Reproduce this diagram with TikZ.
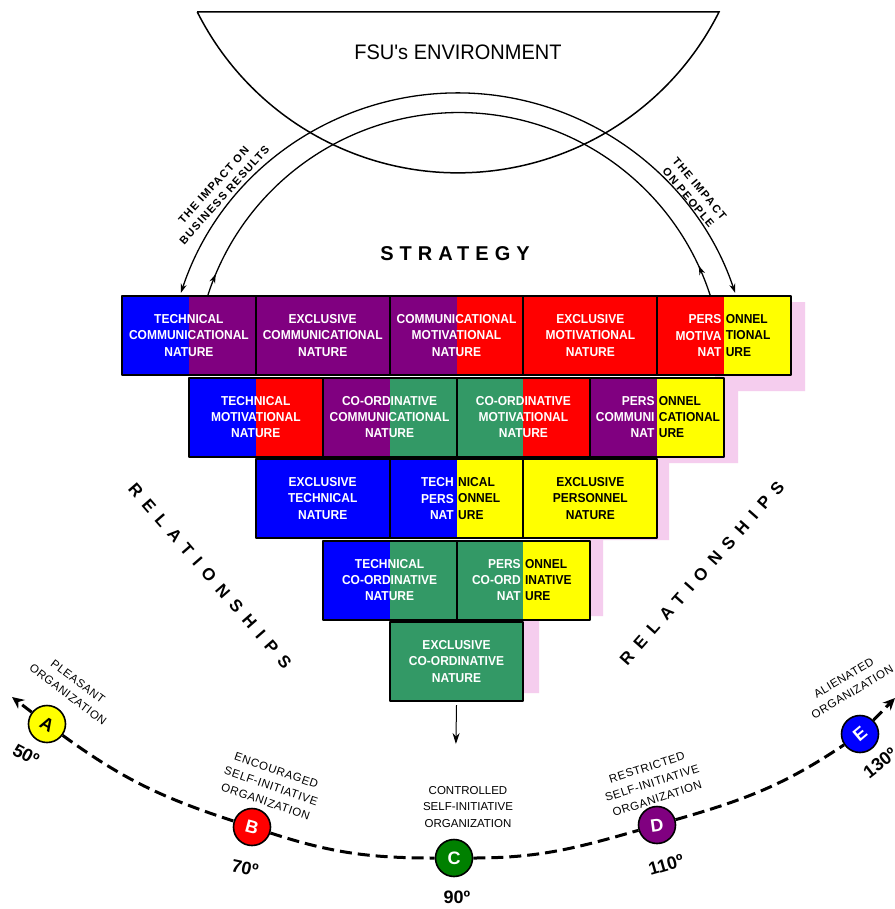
\documentclass[tikz,border=0pt]{standalone}
\usepackage{fontspec}
\setmainfont{Liberation Sans}
\newfontfamily\plainsans{Liberation Sans}
\usepackage{graphicx}
\usetikzlibrary{arrows.meta,decorations.markings}

\definecolor{natblue}{RGB}{0,0,255}
\definecolor{natpurple}{RGB}{128,0,128}
\definecolor{natred}{RGB}{255,0,0}
\definecolor{natyellow}{RGB}{255,255,0}
\definecolor{natgreen}{RGB}{51,153,102}
\definecolor{orbgreen}{RGB}{0,128,0}
\definecolor{shadowpink}{RGB}{245,205,238}

\tikzset{
  natframe/.style={rectangle, minimum width=133.8pt, minimum height=79pt, inner sep=0pt, outer sep=0pt},
  nattext/.style={font=\fontsize{12}{15.2}\selectfont\bfseries, align=center, inner sep=0pt, yscale=1.08, transform shape},
  natline/.style={line width=2pt, line join=round},
  envline/.style={line width=1.5pt},
  arcline/.style={line width=1.3pt},
  tipsmall/.tip={Stealth[length=9pt,width=6pt]},
  impact/.style={font=\fontsize{11}{14.5}\selectfont\bfseries\addfontfeature{LetterSpace=12}, align=center, inner sep=0pt},
  rel/.style={font=\fontsize{17}{20}\selectfont\bfseries\addfontfeature{LetterSpace=50}, inner sep=0pt},
  orb/.style={circle, draw, line width=1.6pt, minimum size=37pt, inner sep=0pt, font=\fontsize{18}{18}\selectfont\bfseries},
  orbit/.style={line width=3pt, dash pattern=on 12pt off 6pt},
  tipbig/.tip={Stealth[length=12pt,width=11pt]},
  deg/.style={font=\fontsize{18}{18}\selectfont\bfseries, inner sep=0pt},
  orgtext/.style={font=\fontsize{11.5}{16.5}\selectfont, align=center, inner sep=0pt},
  orgspaced/.style={font=\fontsize{11.5}{16.5}\selectfont\addfontfeature{LetterSpace=5}, align=center, inner sep=0pt},
}

% box in two colour halves with one centred text
\newcommand\natbox[7]{% name, x, y, left colour, right colour, text colour, text
  \node[natframe, anchor=north west] (#1) at (#2,-#3) {};
  \fill[#4] (#1.north west) rectangle (#1.south);
  \fill[#5] (#1.south) rectangle (#1.north east);
  \node[nattext, text=#6] (#1-t) at (#1.center) {#7};
  \draw[natline] (#1.north west) rectangle (#1.south east);
}
% box whose text changes from white to black at the colour boundary
\newcommand\natsplit[7]{% name, x, y, left colour, right colour, left text, right text
  \node[natframe, anchor=north west] (#1) at (#2,-#3) {};
  \fill[#4] (#1.north west) rectangle (#1.south);
  \fill[#5] (#1.south) rectangle (#1.north east);
  \node[nattext, align=right, text=white, anchor=east] (#1-l) at ([xshift=-2.5pt]#1.center) {#6};
  \node[nattext, align=left, text=black, anchor=west] (#1-r) at ([xshift=1.5pt]#1.center) {#7};
  \draw[natline] (#1.north west) rectangle (#1.south east);
}

\begin{document}
\begin{tikzpicture}[x=1pt,y=1pt]
\useasboundingbox (0,0) rectangle (894,-909);
\fill[white] (0,0) rectangle (894,-909);

% environment bowl
\draw[envline] (197,-12) -- (719,-12) arc[start angle=333.3, end angle=206.7, radius=292] -- cycle;
\node[font=\plainsans\fontsize{20}{24}\selectfont, yscale=1.05, transform shape] (env) at (458,-52) {FSU's ENVIRONMENT};

% the two arcs between environment and strategy
\coordinate (hubout) at (458,-385);
\coordinate (hubin) at (459,-376.6);
\draw[arcline, tipsmall-tipsmall] ([shift={(161.6:292)}]hubout) arc[start angle=161.6, end angle=18.4, radius=292];
\draw[arcline, postaction={decorate}, decoration={markings,
    mark=at position 0.035 with {\arrow{tipsmall}},
    mark=at position 0.965 with {\arrow{tipsmall[reversed]}}}]
  ([shift={(162.2:264)}]hubin) arc[start angle=162.2, end angle=17.8, radius=264];

\node[impact, rotate=48] (impL) at (219,-190) {THE IMPACT ON\\BUSINESS RESULTS};
\node[impact, rotate=-50] (impR) at (694,-193) {THE IMPACT\\ON PEOPLE};

\node[font=\fontsize{20}{24}\selectfont\bfseries\addfontfeature{LetterSpace=30}] (strat) at (455,-254) {STRATEGY};

% pink shadow behind the pyramid
\fill[shadowpink] (780,-302) -- (805,-302) -- (805,-391) -- (738,-391) -- (738,-463)
  -- (669,-463) -- (669,-540) -- (603,-540) -- (603,-616) -- (539,-616) -- (539,-693)
  -- (510,-693) -- (510,-610) -- (580,-610) -- (580,-530) -- (645,-530) -- (645,-450)
  -- (715,-450) -- (715,-370) -- (780,-370) -- cycle;

% row 1
\natbox{a1}{122}{296}{natblue}{natpurple}{white}{TECHNICAL\\COMMUNICATIONAL\\NATURE}
\natbox{a2}{255.8}{296}{natpurple}{natpurple}{white}{EXCLUSIVE\\COMMUNICATIONAL\\NATURE}
\natbox{a3}{389.6}{296}{natpurple}{natred}{white}{COMMUNICATIONAL\\MOTIVATIONAL\\NATURE}
\natbox{a4}{523.4}{296}{natred}{natred}{white}{EXCLUSIVE\\MOTIVATIONAL\\NATURE}
\natsplit{a5}{657.2}{296}{natred}{natyellow}{PERS\\MOTIVA\\NAT}{ONNEL\\TIONAL\\URE}
% row 2
\natbox{b1}{188.9}{377.5}{natblue}{natred}{white}{TECHNICAL\\MOTIVATIONAL\\NATURE}
\natbox{b2}{322.7}{377.5}{natpurple}{natgreen}{white}{CO-ORDINATIVE\\COMMUNICATIONAL\\NATURE}
\natbox{b3}{456.5}{377.5}{natgreen}{natred}{white}{CO-ORDINATIVE\\MOTIVATIONAL\\NATURE}
\natsplit{b4}{590.3}{377.5}{natpurple}{natyellow}{PERS\\COMMUNI\\NAT}{ONNEL\\CATIONAL\\URE}
% row 3
\natbox{c1}{255.8}{459}{natblue}{natblue}{white}{EXCLUSIVE\\TECHNICAL\\NATURE}
\natsplit{c2}{389.6}{459}{natblue}{natyellow}{TECH\\PERS\\NAT}{NICAL\\ONNEL\\URE}
\natbox{c3}{523.4}{459}{natyellow}{natyellow}{black}{EXCLUSIVE\\PERSONNEL\\NATURE}
% row 4
\natbox{d1}{322.7}{540.5}{natblue}{natgreen}{white}{TECHNICAL\\CO-ORDINATIVE\\NATURE}
\natsplit{d2}{456.5}{540.5}{natgreen}{natyellow}{PERS\\CO-ORD\\NAT}{ONNEL\\INATIVE\\URE}
% row 5
\natbox{e1}{389.6}{622}{natgreen}{natgreen}{white}{EXCLUSIVE\\CO-ORDINATIVE\\NATURE}

\coordinate (dn) at (455.9,-744);
\draw[line width=1pt, -{Stealth[length=11pt,width=7pt]}] ([yshift=-4pt]e1.south) -- (dn);

% side captions
\node[rel, rotate=-49] (relL) at (210,-576) {RELATIONSHIPS};
\node[rel, rotate=48.5] (relR) at (702,-573) {RELATIONSHIPS};

% organisation types along the scale
\node[orb, fill=natyellow, text=black] (A) at (47,-724) {\rotatebox{-30}{A}};
\node[orb, fill=natred, text=white] (B) at (252,-827) {\rotatebox{-15}{B}};
\node[orb, fill=orbgreen, text=white] (C) at (454,-858) {C};
\node[orb, fill=natpurple, text=white] (D) at (657,-825) {\rotatebox{8}{D}};
\node[orb, fill=natblue, text=white] (E) at (860,-734) {\rotatebox{40}{E}};

\coordinate (endL) at (12,-697);
\coordinate (endR) at (895,-698);
\draw[orbit] (A) to[out=-36, in=162] (B);
\draw[orbit] (B) to[out=-18, in=180] (C);
\draw[orbit] (C) to[out=0, in=-164] (D);
\draw[orbit] (D) to[out=16, in=-146] (E);
\draw[orbit, -tipbig] (A) -- (endL);
\draw[orbit, -tipbig] (E) -- (endR);

\node[deg, rotate=-28] (dA) at (26,-755) {50º};
\node[deg, rotate=-12] (dB) at (245,-868) {70º};
\node[deg] (dC) at (457,-897) {90º};
\node[deg, rotate=16] (dD) at (666,-865) {110º};
\node[deg, rotate=38] (dE) at (880,-763) {130º};

\node[orgspaced, rotate=-37] (lA) at (73,-688) {PLEASANT\\ORGANIZATION};
\node[orgspaced, rotate=-19] (lB) at (271,-786) {ENCOURAGED\\SELF-INITIATIVE\\ORGANIZATION};
\node[orgtext] (lC) at (468,-807) {CONTROLLED\\SELF-INITIATIVE\\ORGANIZATION};
\node[orgspaced, rotate=18] (lD) at (652,-783) {RESTRICTED\\SELF-INITIATIVE\\ORGANIZATION};
\node[orgspaced, rotate=31] (lE) at (848,-685) {ALIENATED\\ORGANIZATION};
\end{tikzpicture}
\end{document}
